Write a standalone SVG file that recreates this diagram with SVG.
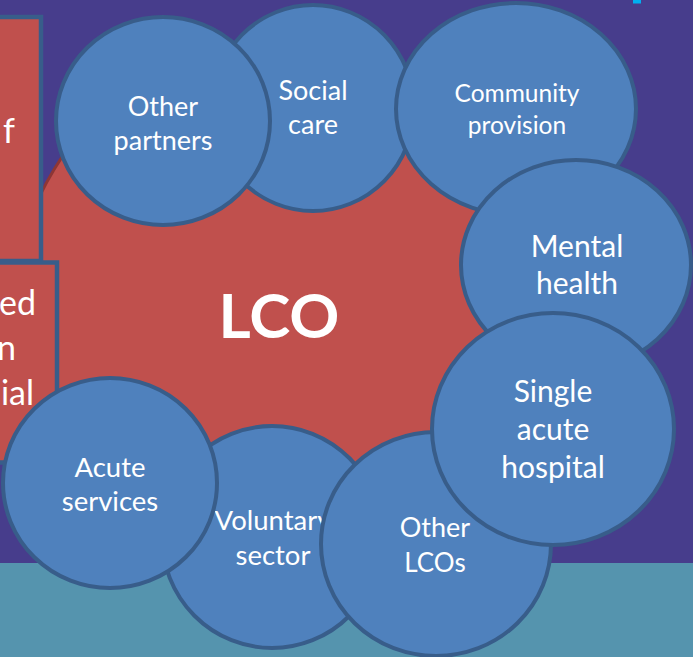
<svg xmlns="http://www.w3.org/2000/svg" width="693" height="657" viewBox="0 0 693 657">
<style>
.c{fill:#4F81BD;stroke:#385D8A;stroke-width:4}
.r{fill:#C0504D;stroke:#385D8A;stroke-width:4.5}
.t{font-family:Lato,"Open Sans",sans-serif;fill:#FFFFFF;text-anchor:middle}
.e{font-family:Lato,"Open Sans",sans-serif;fill:#FFFFFF;text-anchor:end;font-size:34px}
</style>
<rect x="0" y="0" width="693" height="657" fill="#473D8C"/>
<rect x="0" y="563" width="693" height="94" fill="#5594AE"/>
<rect x="633" y="0" width="8" height="3.5" fill="#00B0F0"/>
<g id="lco">
<path d="M20,300 L20,260 C25,225 40,190 62,157 L150,60 L250,40 L330,60 L405,125 L520,200 L560,290 L530,420 L420,520 L300,540 L180,500 L60,440 Z" fill="#C0504D" stroke="#8E3634" stroke-width="3"/>
<text class="t" x="279" y="338" font-size="62" font-weight="bold">LCO</text>
</g>
<g id="box1">
<rect class="r" x="-10" y="17" width="51" height="244"/>
<text class="e" x="15" y="143" font-size="37px">f</text>
</g>
<g id="box2">
<rect class="r" x="-10" y="262.5" width="67" height="200"/>
<text class="e" x="36" y="315">ed</text>
<text class="e" x="16" y="360">n</text>
<text class="e" x="34" y="405">ial</text>
</g>
<g id="connectors"></g>
<g id="social-care">
<ellipse class="c" cx="313" cy="108" rx="101" ry="103"/>
<text class="t" x="313" y="100" font-size="27">Social</text>
<text class="t" x="313" y="134" font-size="27">care</text>
</g>
<g id="other-partners">
<ellipse class="c" cx="163" cy="121" rx="107" ry="104"/>
<text class="t" x="163" y="116" font-size="27">Other</text>
<text class="t" x="163" y="150" font-size="27">partners</text>
</g>
<g id="community-provision">
<ellipse class="c" cx="516" cy="109" rx="120" ry="106"/>
<text class="t" x="517" y="102" font-size="24.5">Community</text>
<text class="t" x="517" y="134" font-size="24.5">provision</text>
</g>
<g id="mental-health">
<ellipse class="c" cx="576" cy="265" rx="115" ry="105"/>
<text class="t" x="577" y="257" font-size="30">Mental</text>
<text class="t" x="577" y="294" font-size="30">health</text>
</g>
<g id="voluntary-sector">
<ellipse class="c" cx="272" cy="537" rx="110" ry="111"/>
<text class="t" x="273" y="530" font-size="27.5">Voluntary</text>
<text class="t" x="273" y="565" font-size="27.5">sector</text>
</g>
<g id="acute-services">
<ellipse class="c" cx="110" cy="483" rx="107" ry="105"/>
<text class="t" x="110" y="477" font-size="27.5">Acute</text>
<text class="t" x="110" y="511" font-size="27.5">services</text>
</g>
<g id="other-lcos">
<ellipse class="c" cx="436" cy="544" rx="115" ry="112"/>
<text class="t" x="435" y="537" font-size="27">Other</text>
<text class="t" x="435" y="572" font-size="26">LCOs</text>
</g>
<g id="single-acute-hospital">
<ellipse class="c" cx="553" cy="429" rx="121" ry="116"/>
<text class="t" x="553" y="402" font-size="30">Single</text>
<text class="t" x="553" y="440" font-size="30">acute</text>
<text class="t" x="553" y="478" font-size="30">hospital</text>
</g>
</svg>
